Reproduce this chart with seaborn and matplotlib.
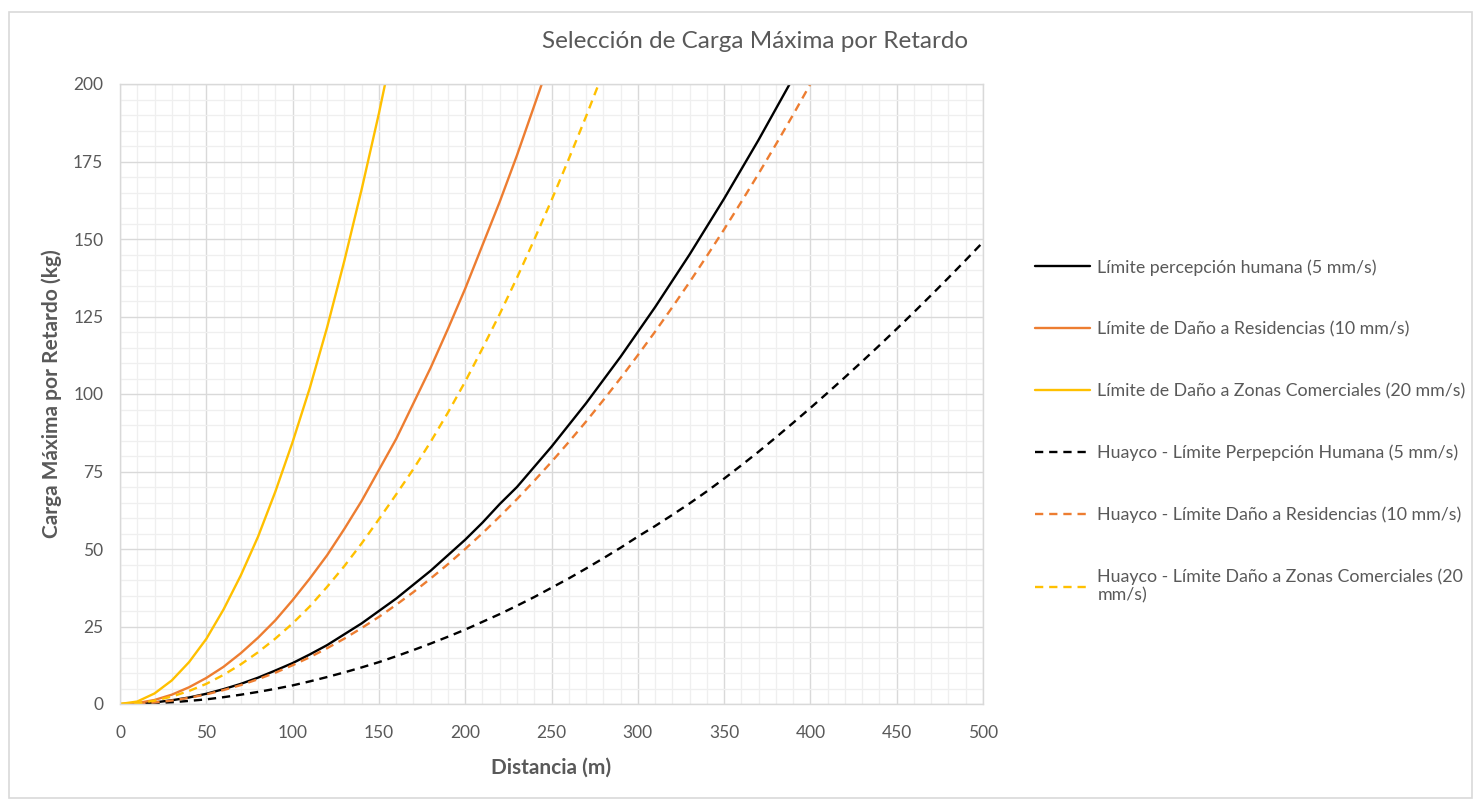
import matplotlib
matplotlib.use("Agg")
import matplotlib.pyplot as plt
from matplotlib.ticker import MultipleLocator
from matplotlib.patches import Rectangle
import pandas as pd
import seaborn as sns

# datos (distancia en m, carga en kg)
d_percepcion = list(range(10, 400, 10))
carga_percepcion = [0.1, 0.5, 1.2, 2.1, 3.3, 4.8, 6.5, 8.5, 10.8, 13.2,
                    16, 19, 22.5, 26, 30, 34, 38.5, 43, 48, 53,
                    58.5, 64.5, 70, 76.5, 83, 90, 97, 104.5, 112, 120,
                    128, 136.5, 145, 154, 163, 172.5, 182, 192, 202]

d_residencias = list(range(0, 260, 10))
carga_residencias = [0, 0.3, 1.3, 3, 5.4, 8.4, 12, 16.4, 21.4, 27,
                     33.5, 40.5, 48, 56.5, 65.5, 75.5, 85.5, 97, 108.5, 121,
                     134, 148, 162, 177, 193, 209]

d_comerciales = list(range(0, 170, 10))
carga_comerciales = [0, 0.8, 3.4, 7.6, 13.5, 21, 30.5, 41.5, 54, 68.5,
                     84.5, 102, 121.5, 143, 166, 190.5, 217]

d_h_percepcion = list(range(10, 510, 10))
carga_h_percepcion = [0.05, 0.25, 0.55, 1, 1.5, 2.2, 3, 3.9, 4.9, 6,
                      7.3, 8.7, 10.2, 11.8, 13.5, 15.4, 17.4, 19.5, 21.7, 24,
                      26.5, 29, 31.7, 34.5, 37.5, 40.5, 43.7, 47, 50.4, 54,
                      57.4, 61, 64.7, 68.6, 72.7, 77, 81.4, 86, 90.7, 95.5,
                      100.4, 105.4, 110.5, 115.7, 121, 126.4, 131.9, 137.5, 143.2, 149]

d_h_residencias = list(range(10, 410, 10))
carga_h_residencias = [0.1, 0.5, 1.1, 2, 3.1, 4.5, 6.1, 8, 10.1, 12.5,
                       15.1, 18, 21.1, 24.5, 28.1, 32, 36.1, 40.5, 45.1, 50,
                       55.1, 60.5, 66.1, 72, 78.1, 84.5, 91.1, 98, 105.1, 112.5,
                       120.1, 128, 136.1, 144.5, 153.1, 162, 171.1, 180.5, 190.1, 200]

d_h_comerciales = list(range(0, 290, 10))
carga_h_comerciales = [0, 0.26, 1.05, 2.4, 4.2, 6.5, 9.4, 12.8, 16.7, 21.1,
                       26, 31.5, 37.8, 44.5, 51.8, 59.6, 67.6, 75.8, 84.6, 94,
                       104, 114.7, 125.8, 137.5, 149.8, 162.5, 175.8, 189.5, 203.8]

series = [
    ("Límite percepción humana (5 mm/s)", d_percepcion, carga_percepcion, "#000000", "-"),
    ("Límite de Daño a Residencias (10 mm/s)", d_residencias, carga_residencias, "#ED7D31", "-"),
    ("Límite de Daño a Zonas Comerciales (20 mm/s)", d_comerciales, carga_comerciales, "#FFC000", "-"),
    ("Huayco - Límite Perpepción Humana (5 mm/s)", d_h_percepcion, carga_h_percepcion, "#000000", "--"),
    ("Huayco - Límite Daño a Residencias (10 mm/s)", d_h_residencias, carga_h_residencias, "#ED7D31", "--"),
    ("Huayco - Límite Daño a Zonas Comerciales (20\nmm/s)", d_h_comerciales, carga_h_comerciales, "#FFC000", "--"),
]

sns.set_style("white")
plt.rcParams['font.family'] = ['Lato', 'DejaVu Sans']

gris = '#595959'
fig = plt.figure(figsize=(14.81, 8), dpi=100)
ax = fig.add_axes([120/1481, 1 - 704/800, (983 - 120)/1481, (704 - 84)/800])

# borde exterior del grafico
fig.patches.append(Rectangle((9/1481, 0.002), 1 - 18/1481, 1 - 14/800,
                             transform=fig.transFigure, fill=False,
                             edgecolor='#d9d9d9', linewidth=1.2))

for nombre, xs, ys, color, estilo in series:
    df = pd.DataFrame({'x': xs, 'y': ys})
    sns.lineplot(data=df, x='x', y='y', ax=ax, color=color, linewidth=1.7,
                 label=nombre)
    if estilo == '--':
        ax.lines[-1].set_dashes((3.5, 2.5))

ax.set_xlim(0, 500)
ax.set_ylim(0, 200)
ax.xaxis.set_major_locator(MultipleLocator(50))
ax.xaxis.set_minor_locator(MultipleLocator(10))
ax.yaxis.set_major_locator(MultipleLocator(25))
ax.yaxis.set_minor_locator(MultipleLocator(5))
ax.grid(which='major', color='#d9d9d9', linewidth=1.0)
ax.grid(which='minor', color='#efefef', linewidth=0.9)
ax.set_axisbelow(True)
ax.tick_params(which='both', length=0, colors=gris, labelsize=12.5)
ax.tick_params(axis='x', pad=15)
ax.tick_params(axis='y', pad=12)
for lado in ['top', 'right', 'bottom', 'left']:
    ax.spines[lado].set_color('#d9d9d9')
    ax.spines[lado].set_linewidth(1.0)

ax.set_xlabel('Distancia (m)', fontsize=15, fontweight='bold', color=gris, labelpad=12)
ax.set_ylabel('Carga Máxima por Retardo (kg)', fontsize=15, fontweight='bold', color=gris, labelpad=8)
fig.text(755/1481, 1 - 42/800, 'Selección de Carga Máxima por Retardo',
         ha='center', va='center', fontsize=17.5, color=gris)

handles, labels = ax.get_legend_handles_labels()
ax.get_legend().remove()
fig.legend(handles, labels, loc='upper left', bbox_to_anchor=(1028/1481, 1 - 252/800),
           frameon=False, fontsize=12.8, labelcolor=gris, handlelength=3.1,
           handletextpad=0.4, labelspacing=2.56, borderaxespad=0)

plt.savefig('out.png', dpi=100)
